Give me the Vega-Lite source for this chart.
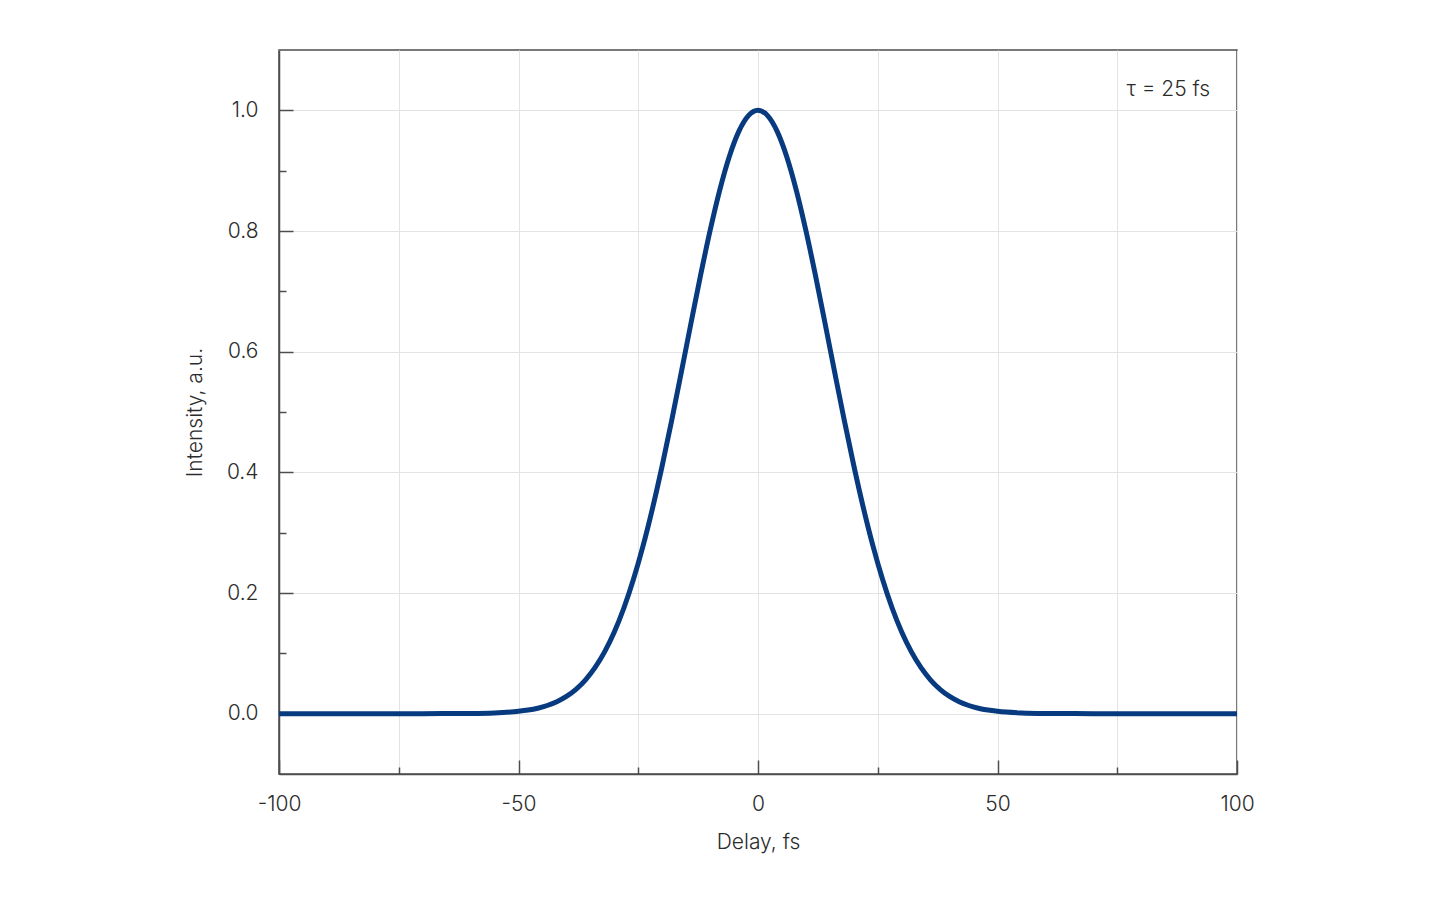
{
  "$schema": "https://vega.github.io/schema/vega-lite/v6.json",
  "width": 958,
  "height": 724,
  "autosize": {"type": "none"},
  "padding": {"left": 279, "top": 50, "right": 203, "bottom": 126},
  "background": "white",
  "config": {
    "font": "Inter",
    "view": {"stroke": "#4d4d4d", "strokeWidth": 1.5},
    "axis": {
      "domainColor": "#4d4d4d",
      "domainWidth": 1.5,
      "tickColor": "#4d4d4d",
      "tickWidth": 1.5,
      "gridColor": "#e3e3e3",
      "gridWidth": 1,
      "labelFont": "Inter",
      "labelFontSize": 21,
      "labelFontWeight": 300,
      "labelColor": "#2b2b2b",
      "titleFont": "Inter",
      "titleFontSize": 21,
      "titleFontWeight": 300,
      "titleColor": "#2b2b2b"
    }
  },
  "layer": [
    {
      "data": {
        "values": [
          {"delay": -100, "intensity": 0},
          {"delay": -90, "intensity": 0},
          {"delay": -80, "intensity": 0},
          {"delay": -70, "intensity": 0.00002},
          {"delay": -60, "intensity": 0.00034},
          {"delay": -55, "intensity": 0.0012},
          {"delay": -50, "intensity": 0.00387},
          {"delay": -48, "intensity": 0.00598},
          {"delay": -46, "intensity": 0.00907},
          {"delay": -44, "intensity": 0.01354},
          {"delay": -42, "intensity": 0.01984},
          {"delay": -40, "intensity": 0.02856},
          {"delay": -38, "intensity": 0.0404},
          {"delay": -36, "intensity": 0.05613},
          {"delay": -34, "intensity": 0.07661},
          {"delay": -32, "intensity": 0.10275},
          {"delay": -30, "intensity": 0.13534},
          {"delay": -28, "intensity": 0.17513},
          {"delay": -26, "intensity": 0.22264},
          {"delay": -24, "intensity": 0.27804},
          {"delay": -22, "intensity": 0.34111},
          {"delay": -20, "intensity": 0.41111},
          {"delay": -18, "intensity": 0.48675},
          {"delay": -16, "intensity": 0.56615},
          {"delay": -14, "intensity": 0.64689},
          {"delay": -12, "intensity": 0.72615},
          {"delay": -10, "intensity": 0.80074},
          {"delay": -8, "intensity": 0.86743},
          {"delay": -6, "intensity": 0.92312},
          {"delay": -4, "intensity": 0.96506},
          {"delay": -2, "intensity": 0.99115},
          {"delay": 0, "intensity": 1},
          {"delay": 2, "intensity": 0.99115},
          {"delay": 4, "intensity": 0.96506},
          {"delay": 6, "intensity": 0.92312},
          {"delay": 8, "intensity": 0.86743},
          {"delay": 10, "intensity": 0.80074},
          {"delay": 12, "intensity": 0.72615},
          {"delay": 14, "intensity": 0.64689},
          {"delay": 16, "intensity": 0.56615},
          {"delay": 18, "intensity": 0.48675},
          {"delay": 20, "intensity": 0.41111},
          {"delay": 22, "intensity": 0.34111},
          {"delay": 24, "intensity": 0.27804},
          {"delay": 26, "intensity": 0.22264},
          {"delay": 28, "intensity": 0.17513},
          {"delay": 30, "intensity": 0.13534},
          {"delay": 32, "intensity": 0.10275},
          {"delay": 34, "intensity": 0.07661},
          {"delay": 36, "intensity": 0.05613},
          {"delay": 38, "intensity": 0.0404},
          {"delay": 40, "intensity": 0.02856},
          {"delay": 42, "intensity": 0.01984},
          {"delay": 44, "intensity": 0.01354},
          {"delay": 46, "intensity": 0.00907},
          {"delay": 48, "intensity": 0.00598},
          {"delay": 50, "intensity": 0.00387},
          {"delay": 55, "intensity": 0.0012},
          {"delay": 60, "intensity": 0.00034},
          {"delay": 70, "intensity": 0.00002},
          {"delay": 80, "intensity": 0},
          {"delay": 90, "intensity": 0},
          {"delay": 100, "intensity": 0}
        ]
      },
      "mark": {"type": "line", "color": "#073a7f", "strokeWidth": 5, "interpolate": "monotone", "strokeCap": "butt", "clip": true},
      "encoding": {
        "x": {
          "field": "delay",
          "type": "quantitative",
          "scale": {"domain": [-100, 100], "nice": false, "zero": false},
          "axis": {
            "title": "Delay, fs",
            "titlePadding": 17,
            "values": [-100, -75, -50, -25, 0, 25, 50, 75, 100],
            "labelExpr": "datum.value % 50 === 0 ? replace(datum.label, '\u2212', '-') : ''",
            "labelPadding": 33,
            "labelFlush": false,
            "tickSize": {"condition": {"test": "datum.value % 50 === 0", "value": -14}, "value": -7},
            "grid": true
          }
        },
        "y": {
          "field": "intensity",
          "type": "quantitative",
          "scale": {"domain": [-0.1, 1.1], "nice": false, "zero": false},
          "axis": {
            "title": "Intensity, a.u.",
            "titlePadding": 21,
            "values": [0, 0.1, 0.2, 0.3, 0.4, 0.5, 0.6, 0.7, 0.8, 0.9, 1.0],
            "format": ".1f",
            "labelExpr": "round(datum.value * 10) % 2 === 0 ? datum.label : ''",
            "labelPadding": 35,
            "labelFlush": false,
            "tickSize": {"condition": {"test": "round(datum.value * 10) % 2 === 0", "value": -14}, "value": -7},
            "gridOpacity": {"condition": {"test": "round(datum.value * 10) % 2 === 0", "value": 1}, "value": 0}
          }
        }
      }
    },
    {
      "data": {"values": [{"label": "τ = 25 fs"}]},
      "mark": {"type": "text", "align": "right", "baseline": "middle", "fontSize": 21, "fontWeight": 300, "font": "Inter", "color": "#2b2b2b"},
      "encoding": {
        "x": {"datum": 94.4},
        "y": {"datum": 1.033},
        "text": {"field": "label"}
      }
    }
  ]
}
